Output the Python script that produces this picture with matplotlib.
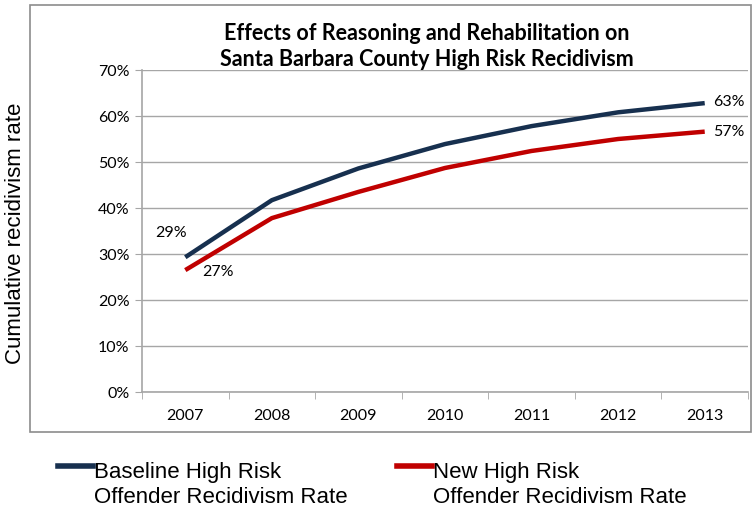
import matplotlib
matplotlib.use("Agg")
import matplotlib.pyplot as plt
from matplotlib.patches import Rectangle
from matplotlib.lines import Line2D

years = ["2007", "2008", "2009", "2010", "2011", "2012", "2013"]
baseline = [29.3, 41.7, 48.6, 53.9, 57.8, 60.8, 62.8]
new_rate = [26.5, 37.8, 43.5, 48.7, 52.4, 55.0, 56.6]
yticks = [0, 10, 20, 30, 40, 50, 60, 70]

navy = '#17304f'
red = '#c00000'
grid_c = '#a6a6a6'
tick_font = ['Lato', 'DejaVu Sans']
arial = ['Liberation Sans', 'DejaVu Sans']

fig = plt.figure(figsize=(7.52, 5.11), dpi=100)

# outer chart frame
fig.patches.append(Rectangle((30/752, 1 - 432/511), 721/752, 427/511,
                             transform=fig.transFigure, fill=False,
                             edgecolor='#8c8c8c', linewidth=1.2))

ax = fig.add_axes([142/752, 1 - 392/511, 606/752, 322/511])
x = list(range(len(years)))
ax.plot(x, baseline, color=navy, linewidth=3.2, solid_capstyle='butt')
ax.plot(x, new_rate, color=red, linewidth=3.2, solid_capstyle='butt')

ax.set_xlim(-0.5, len(years) - 0.5)
ax.set_ylim(0, 70)
ax.set_yticks(yticks)
ax.set_yticklabels(["{}%".format(v) for v in yticks], fontfamily=tick_font, fontsize=11.5)
ax.set_xticks(x)
ax.set_xticklabels(years, fontfamily=tick_font, fontsize=11.5)
ax.set_xticks([i - 0.5 for i in range(len(years) + 1)], minor=True)
ax.tick_params(axis='x', which='major', length=0, pad=12)
ax.tick_params(axis='x', which='minor', length=5, color=grid_c)
ax.tick_params(axis='y', length=5, color=grid_c, pad=4)
ax.grid(True, axis='y', color=grid_c, linewidth=1)
ax.set_axisbelow(True)
for s in ['top', 'right']:
    ax.spines[s].set_visible(False)
for s in ['left', 'bottom']:
    ax.spines[s].set_color(grid_c)
    ax.spines[s].set_linewidth(1.2)

# data labels
lab = dict(textcoords='offset pixels', va='center', ha='left',
           fontfamily=tick_font, fontsize=11.5)
ax.annotate("29%", (0, baseline[0]), xytext=(-30, 24), **lab)
ax.annotate("27%", (0, new_rate[0]), xytext=(17, -2), **lab)
ax.annotate("63%", (6, baseline[-1]), xytext=(8, 1), **lab)
ax.annotate("57%", (6, new_rate[-1]), xytext=(8, 0), **lab)

fig.text(427/752, 1 - 33/511, "Effects of Reasoning and Rehabilitation on",
         ha='center', va='center', fontfamily=tick_font, fontsize=15.5, fontweight='bold')
fig.text(427/752, 1 - 60/511, "Santa Barbara County High Risk Recidivism",
         ha='center', va='center', fontfamily=tick_font, fontsize=15.5, fontweight='bold')

fig.text(16/752, 1 - 233/511, "Cumulative recidivism rate", rotation=90,
         ha='center', va='center', fontfamily=arial, fontsize=16)

# legend below the chart frame
for x0, color, line1, line2 in [(58, navy, "Baseline High Risk", "Offender Recidivism Rate"),
                                (397, red, "New High Risk", "Offender Recidivism Rate")]:
    fig.lines.append(Line2D([x0/752, (x0 + 35)/752], [1 - 466/511] * 2,
                            transform=fig.transFigure, color=color, linewidth=4))
    fig.text((x0 + 36)/752, 1 - 478/511, line1, ha='left', va='baseline',
             fontfamily=arial, fontsize=16)
    fig.text((x0 + 36)/752, 1 - 503/511, line2, ha='left', va='baseline',
             fontfamily=arial, fontsize=16)

fig.savefig("out.png", dpi=100)
